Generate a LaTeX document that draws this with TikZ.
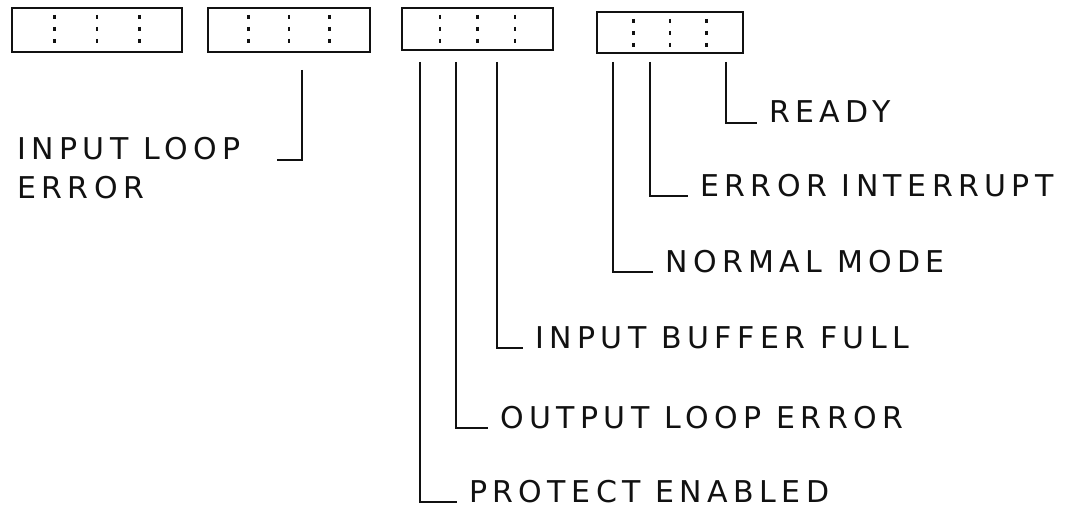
\documentclass[tikz,border=0pt]{standalone}
\usepackage{fontspec}
\newfontfamily\handfont{DejaVu Sans}[LetterSpace=18]
\usepackage{tikz}
\usetikzlibrary{calc}
\usepackage{xcolor}

\definecolor{ink}{HTML}{111111}

\tikzset{
    regbox/.style={draw=ink, line width=1.8pt, inner sep=0pt, minimum height=44pt,
        path picture={
            \foreach \f in {0.25, 0.5, 0.75}
                \draw[ink, line width=2.4pt, dash pattern=on 4pt off 8pt]
                    ($(path picture bounding box.north west)!\f!(path picture bounding box.north east)+(0,7)$) --
                    ($(path picture bounding box.south west)!\f!(path picture bounding box.south east)+(0,-6)$);
        }},
    wire/.style={draw=ink, line width=2.6pt},
    lbl/.style={font=\handfont\fontsize{30}{36}\selectfont, text=ink,
        inner xsep=12pt, inner ysep=0pt, anchor=base west},
}

\begin{document}
\begin{tikzpicture}[x=1pt, y=-1pt]
    \useasboundingbox (0,0) rectangle (1087,508);

    % Register boxes
    \node[regbox, minimum width=170pt] (r1) at (97,30) {};
    \node[regbox, minimum width=162pt] (r2) at (289,30) {};
    \node[regbox, minimum width=151pt, minimum height=42pt] (r3) at (477.5,29) {};
    \node[regbox, minimum width=146pt, minimum height=41pt] (r4) at (670,32.5) {};

    % Start of each bit line
    \coordinate (il top) at (302,70);
    \coordinate (pe top) at (420,62);
    \coordinate (ol top) at (456,62);
    \coordinate (ib top) at (497,62);
    \coordinate (nm top) at (613,62);
    \coordinate (ei top) at (650,62);
    \coordinate (rd top) at (726,62);

    % Bit labels
    \node[lbl] (rd) at (757,123) {READY};
    \node[lbl] (ei) at (688,196) {ERROR INTERRUPT};
    \node[lbl] (nm) at (653,272) {NORMAL MODE};
    \node[lbl] (ib) at (523,348) {INPUT BUFFER FULL};
    \node[lbl] (ol) at (488,428) {OUTPUT LOOP ERROR};
    \node[lbl] (pe) at (457,502) {PROTECT ENABLED};

    \node[lbl] (il1) at (5,160) {INPUT LOOP};
    \node[lbl] (il2) at (5,198) {ERROR};
    \coordinate (il end) at (277,160);

    % Bit lines
    \foreach \b in {rd, ei, nm, ib, ol, pe}
        \draw[wire] (\b\space top) |- (\b.base west);
    \draw[wire] (il top) |- (il end);
\end{tikzpicture}
\end{document}
